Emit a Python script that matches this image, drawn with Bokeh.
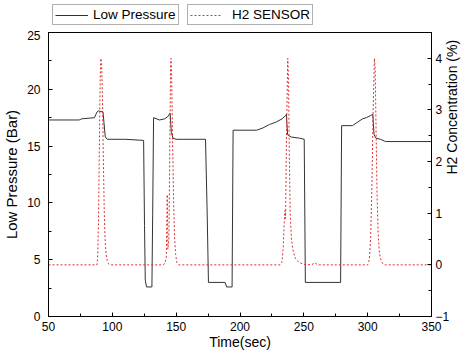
import math
from bokeh.plotting import figure
from bokeh.layouts import column
from bokeh.models import Range1d, LinearAxis, SingleIntervalTicker, Legend, LegendItem
from bokeh.embed import file_html
from bokeh.resources import INLINE

# Low pressure (Bar) vs time (sec)
p_time = [50, 74, 76, 86, 88, 89, 92.7, 93.5, 94.5, 96, 110,
          124.5, 125.2, 125.8, 126.8, 131.0, 131.6, 132.3, 137, 141, 143.5,
          145.3, 146.2, 147.5, 150, 173, 174.3, 175.3, 188.3, 189.5, 193.8,
          194.6, 213, 218, 223, 228, 233, 235.8, 236.3, 237.3, 240,
          246.5, 250.3, 251.2, 278.8, 279.6, 288, 292, 296, 299, 302.5,
          304, 305, 306.5, 310, 314, 350]
p_val = [17.3, 17.3, 17.4, 17.5, 18.0, 18.1, 18.0, 17.0, 15.8, 15.6, 15.6,
         15.5, 8.0, 3.2, 2.6, 2.6, 9.0, 17.5, 17.3, 17.4, 17.6,
         17.9, 16.2, 15.7, 15.6, 15.6, 9.0, 3.0, 3.0, 2.6, 2.6,
         16.4, 16.4, 16.6, 16.9, 17.1, 17.4, 17.7, 17.8, 16.0, 15.8,
         15.7, 15.6, 3.0, 3.0, 16.8, 16.8, 17.1, 17.4, 17.5, 17.7,
         17.8, 16.0, 15.7, 15.6, 15.4, 15.4]

# H2 concentration (%) vs time (sec)
h_time = [50, 88.0, 88.6, 89.2, 89.8, 90.4, 91.0, 91.6, 92.3, 93.0, 93.7, 94.3, 95.0, 96.0, 97.0, 98.5,
          140, 141.5, 142.3, 143.0, 143.5, 144.3, 145.0, 145.6, 146.0, 146.5, 147.2, 148.0, 148.8, 149.6, 150.5, 152,
          231.5, 232.8, 233.8, 234.6, 235.2, 235.7, 236.4, 237.4, 238.0, 238.6, 239.3, 240.3, 241.8, 243.5, 246, 250, 256, 258.5, 261,
          300, 301.3, 302.3, 303.3, 304.3, 305.3, 305.9, 306.6, 307.4, 308.3, 309.3, 310.5, 312, 314, 350]
h_val = [0, 0, 0.2, 0.9, 2.2, 3.5, 4.0, 3.9, 3.2, 2.0, 1.0, 0.5, 0.25, 0.08, 0.02, 0,
         0, 0.05, 0.15, 1.36, 0.3, 0.5, 2.2, 3.8, 4.0, 3.6, 2.4, 1.2, 0.5, 0.2, 0.05, 0,
         0, 0.05, 0.3, 0.8, 1.05, 0.9, 2.5, 4.0, 3.6, 2.2, 1.0, 0.5, 0.25, 0.12, 0.05, 0.01, 0, 0.04, 0,
         0, 0.1, 0.5, 1.5, 3.0, 4.0, 3.8, 2.6, 1.3, 0.55, 0.22, 0.08, 0.02, 0, 0]

x_label = "Time(sec)"
y_label = "Low Pressure (Bar)"
y2_label = "H2 Concentration (%)"
series_names = ["Low Pressure", "H2 SENSOR"]

FONT = "Liberation Sans"
P_STYLE = dict(line_color="#333333", line_width=1)
H_STYLE = dict(line_color="#e03030", line_width=1, line_dash="2 2")

# ---- main plot ----
p = figure(width=471, height=324, output_backend="svg", toolbar_location=None,
           x_range=Range1d(50, 350), y_range=Range1d(0, 25),
           min_border_left=48, min_border_right=39, min_border_top=2, min_border_bottom=38)
p.extra_y_ranges = {"h2": Range1d(-1, 4.5)}
p.xgrid.visible = False
p.ygrid.visible = False
p.outline_line_color = "black"
p.outline_line_alpha = 1
p.background_fill_color = "white"
p.border_fill_color = "white"

r1 = p.line(p_time, p_val, **P_STYLE)
r2 = p.line(h_time, h_val, y_range_name="h2", **H_STYLE)

right_axis = LinearAxis(y_range_name="h2")
p.add_layout(right_axis, "right")

p.xaxis[0].ticker = SingleIntervalTicker(interval=50, num_minor_ticks=2)
p.yaxis[0].ticker = SingleIntervalTicker(interval=5, num_minor_ticks=2)
right_axis.ticker = SingleIntervalTicker(interval=1, num_minor_ticks=2)

for ax in [p.xaxis[0], p.yaxis[0], right_axis]:
    ax.axis_line_color = "black"
    ax.major_tick_in = 4
    ax.major_tick_out = 0
    ax.minor_tick_in = 3
    ax.minor_tick_out = 0
    ax.major_tick_line_color = "black"
    ax.minor_tick_line_color = "black"
    ax.major_label_text_font = FONT
    ax.major_label_text_font_size = "12px"
    ax.major_label_text_color = "black"
    ax.axis_label_text_font = FONT
    ax.axis_label_text_font_style = "normal"
    ax.axis_label_text_color = "black"

p.xaxis[0].axis_label = x_label
p.xaxis[0].axis_label_text_font_size = "14px"
p.xaxis[0].major_label_standoff = 5
p.xaxis[0].axis_label_standoff = 0

p.yaxis[0].axis_label = y_label
p.yaxis[0].axis_label_text_font_size = "15px"
p.yaxis[0].major_label_standoff = 8
p.yaxis[0].axis_label_standoff = 4

right_axis.axis_label = y2_label
right_axis.axis_label_text_font_size = "14px"
right_axis.major_label_standoff = 4
right_axis.axis_label_standoff = 0
if "axis_label_orientation" in right_axis.properties():
    # numeric orientation: text reads bottom-to-top, like the left title
    right_axis.axis_label_orientation = math.pi / 2
    right_axis.axis_label_text_align = "center"

# ---- legend strip (separate boxes above the plot) ----
lf = figure(width=471, height=30, output_backend="svg", toolbar_location=None,
            x_range=Range1d(0, 1), y_range=Range1d(0, 1), min_border=0)
lf.axis.visible = False
lf.xgrid.visible = False
lf.ygrid.visible = False
lf.outline_line_color = None
lf.background_fill_color = "white"
lf.border_fill_color = "white"
# legend keys only: drawn outside the visible range of this strip
k1 = lf.line([-5, -4], [-5, -4], **P_STYLE)
k2 = lf.line([-5, -4], [-5, -4], **H_STYLE)

leg_kw = dict(orientation="horizontal", padding=2, margin=0, spacing=0,
              glyph_height=12, label_height=12,
              label_text_font=FONT, label_text_font_size="13.5px", label_text_color="black",
              border_line_color="#606060", border_line_width=1,
              background_fill_color="white", background_fill_alpha=1)
leg1 = Legend(items=[LegendItem(label=series_names[0], renderers=[k1])], location=(4, 5),
              glyph_width=33, label_standoff=5, **leg_kw)
leg2 = Legend(items=[LegendItem(label=series_names[1], renderers=[k2])], location=(139, 5),
              glyph_width=32, label_standoff=10, **leg_kw)
lf.add_layout(leg1)
lf.add_layout(leg2)

layout = column(lf, p, spacing=0)
open("out.html", "w").write(file_html(layout, INLINE))
